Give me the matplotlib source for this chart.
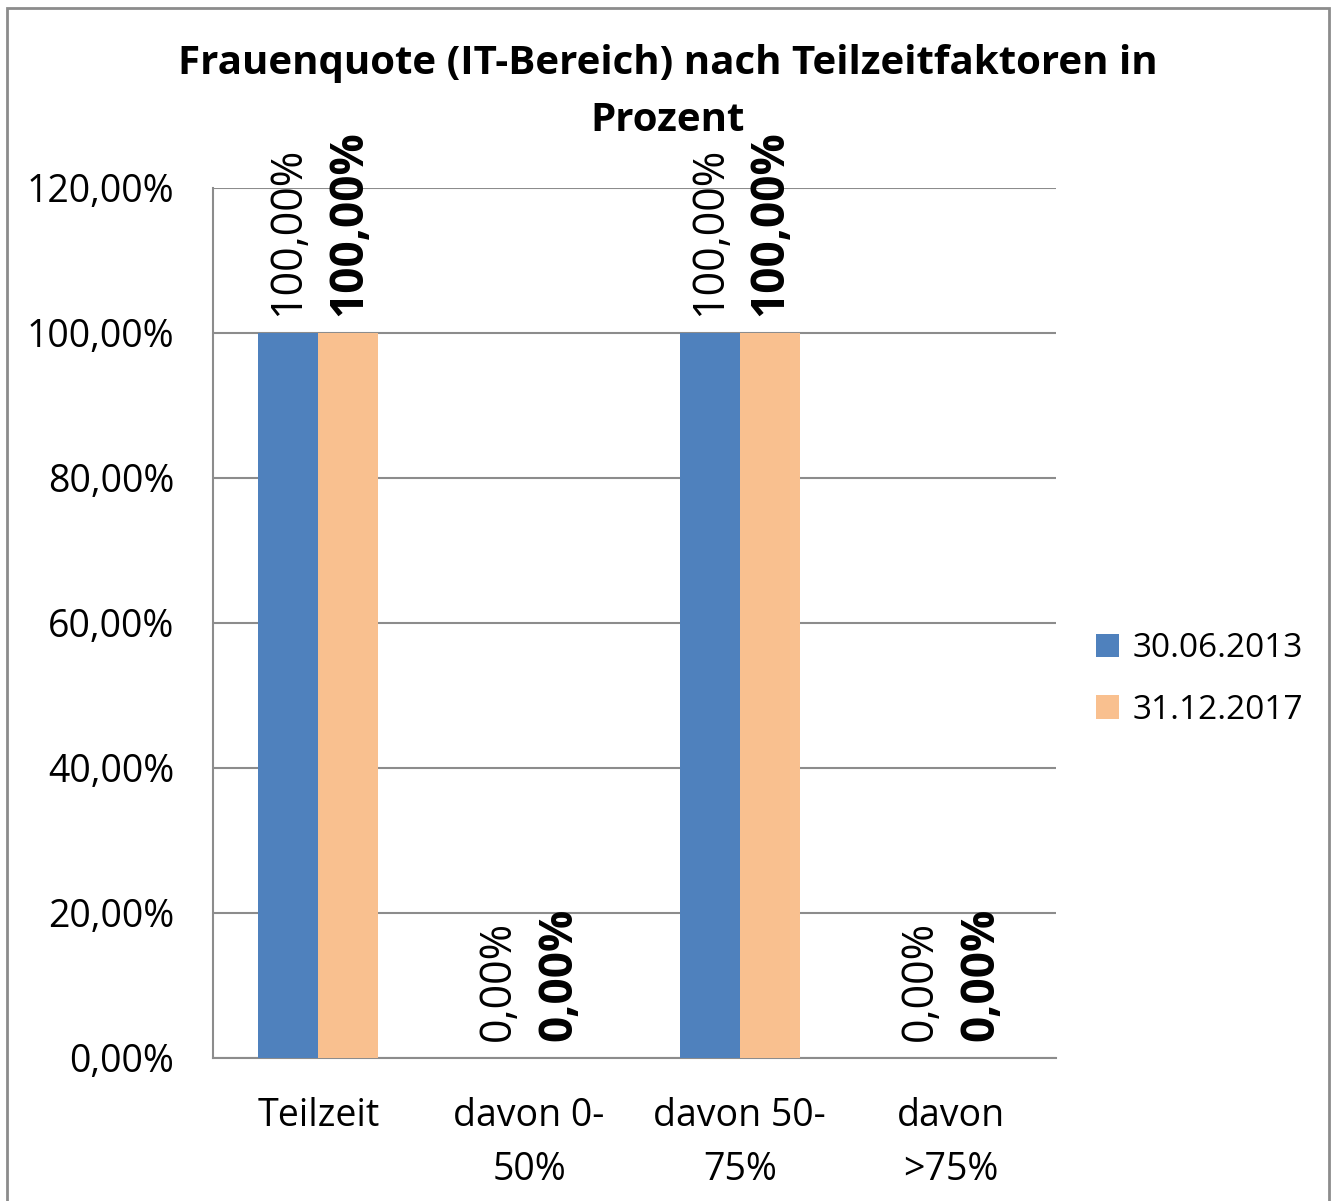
import matplotlib.pyplot as plt
import matplotlib.ticker as ticker
import numpy as np
from matplotlib.patches import Rectangle

plt.rcParams['font.family'] = ['Open Sans', 'DejaVu Sans']

categories = ['Teilzeit', 'davon 0-\n50%', 'davon 50-\n75%', 'davon\n>75%']
series_names = ['30.06.2013', '31.12.2017']
values_2013 = [100.0, 0.0, 100.0, 0.0]
values_2017 = [100.0, 0.0, 100.0, 0.0]
y_ticks = [0, 20, 40, 60, 80, 100, 120]

colors = ['#4F81BD', '#F9C08F']


def pct(v):
    return '{:.2f}%'.format(v).replace('.', ',')


fig = plt.figure(figsize=(13.36, 12.01), dpi=100)
ax = fig.add_axes([0.1594, 0.1191, 0.6310, 0.7244])

x = np.arange(len(categories))
w = 0.285
b1 = ax.bar(x - w / 2, values_2013, w, color=colors[0], label=series_names[0], zorder=3)
b2 = ax.bar(x + w / 2, values_2017, w, color=colors[1], label=series_names[1], zorder=3)

ax.bar_label(b1, labels=[pct(v) for v in values_2013], rotation=90, padding=12,
             fontsize=31, color='black')
ax.bar_label(b2, labels=[pct(v) for v in values_2017], rotation=90, padding=12,
             fontsize=33, fontweight='bold', color='black')

ax.set_xlim(-0.5, len(categories) - 0.5)
ax.set_ylim(0, 120)
ax.set_yticks(y_ticks)
ax.yaxis.set_major_formatter(ticker.FuncFormatter(lambda v, p: pct(v)))
ax.set_xticks(x)
ax.set_xticklabels(categories, fontsize=27, linespacing=1.55)
ax.tick_params(axis='y', labelsize=27, length=0, pad=28)
ax.tick_params(axis='x', length=0, pad=28)

ax.grid(axis='y', color='#8c8c8c', linewidth=1.5, zorder=0)
for s in ['top', 'right']:
    ax.spines[s].set_visible(False)
ax.spines['left'].set_color('#8c8c8c')
ax.spines['bottom'].set_color('#8c8c8c')
ax.spines['left'].set_linewidth(1.5)
ax.spines['bottom'].set_linewidth(1.5)

fig.text(0.5, 0.963, 'Frauenquote (IT-Bereich) nach Teilzeitfaktoren in\nProzent',
         ha='center', va='top', fontsize=29, fontweight='bold', linespacing=1.6)

ax.legend(loc='center left', bbox_to_anchor=(1.012, 0.435), frameon=False, fontsize=24,
          handlelength=0.7, handleheight=0.7, handletextpad=0.4, labelspacing=0.85)

fig.patches.append(Rectangle((7 / 1336, -0.01), 1322 / 1336, 1 - 8 / 1201 + 0.01,
                             transform=fig.transFigure, fill=False,
                             edgecolor='#8c8c8c', linewidth=2))

fig.savefig('out.png', dpi=100)
